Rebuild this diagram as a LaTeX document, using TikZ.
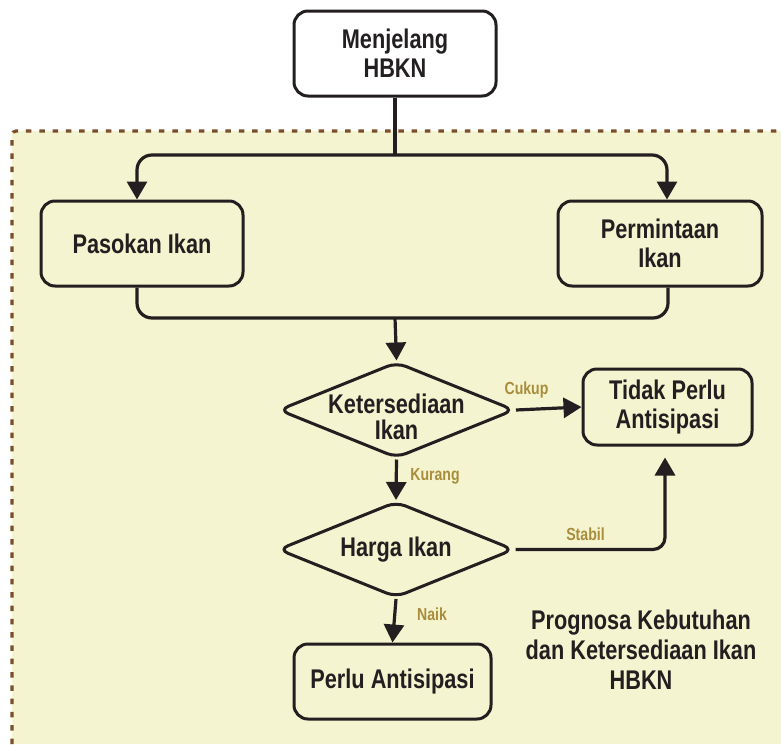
\documentclass[tikz,border=0pt]{standalone}
\usepackage{fontspec}
\setmainfont[FakeStretch=0.805]{Liberation Sans}
\usetikzlibrary{arrows.meta,shapes.geometric}
\definecolor{bgy}{HTML}{F4F4D0}
\definecolor{brd}{HTML}{7A4E28}
\definecolor{ink}{HTML}{231F20}
\definecolor{gold}{HTML}{A88D3C}
\begin{document}
\begin{tikzpicture}[x=1pt,y=-1pt,
  box/.style={draw=ink,line width=3pt,rounded corners=14pt,fill=bgy,align=center,
    font=\fontsize{27}{29}\selectfont\bfseries,text=ink,inner sep=0pt},
  dia/.style={diamond,draw=ink,line width=3pt,rounded corners=10pt,fill=bgy,inner sep=0pt},
  diatext/.style={align=center,font=\fontsize{27}{25.5}\selectfont\bfseries,text=ink,inner sep=0pt},
  lbl/.style={font=\fontsize{17.5}{20}\selectfont\bfseries,text=gold,anchor=base,inner sep=0pt},
  conn/.style={draw=ink,line width=3.2pt},
  arr/.style={conn,-{Triangle[width=20pt,length=18pt]}},
]
\useasboundingbox (0,0) rectangle (781,744);
% background panel
\fill[bgy] (12,131) rectangle (781,744);
\draw[brd,line width=3.2pt,dash pattern=on 5.5pt off 7.8pt,rounded corners=4pt] (12,744) -- (12,131) -- (781,131);

% nodes
\node[box,fill=white,minimum width=202pt,minimum height=85pt] (top) at (395,53.5) {Menjelang\\HBKN};
\node[box,minimum width=202pt,minimum height=85pt] (pas) at (142,243.5) {Pasokan Ikan};
\node[box,minimum width=204pt,minimum height=85pt] (perm) at (660,243.5) {Permintaan\\Ikan};
\node[dia,minimum width=236pt,minimum height=96pt] (k) at (396.5,410) {};
\node[diatext] (kt) at (396.5,417) {Ketersediaan\\Ikan};
\node[box,minimum width=169pt,minimum height=76pt] (tp) at (667.5,407) {Tidak Perlu\\Antisipasi};
\node[dia,minimum width=236pt,minimum height=96pt] (h) at (396,549.5) {};
\node[diatext] (ht) at (h) {Harga Ikan};
\node[box,minimum width=197pt,minimum height=75pt] (pa) at (392.5,681.5) {Perlu Antisipasi};
\node[diatext,font=\fontsize{27}{30}\selectfont\bfseries] (prog) at (641,650) {Prognosa Kebutuhan\\dan Ketersediaan Ikan\\HBKN};

% junction coordinates
\coordinate (jn) at (395,155);
\coordinate (jb) at (395,318);

% connectors
\draw[conn] (top.south) -- (jn);
\draw[arr,rounded corners=15pt] (jn) -| ([xshift=-5pt]pas.north);
\draw[arr,rounded corners=15pt] (jn) -| ([xshift=7pt]perm.north);
\draw[conn,rounded corners=15pt] ([xshift=-5pt]pas.south) |- (jb) -| ([xshift=8pt]perm.south);
\draw[arr] (jb) -- (k.north);
\draw[arr] (k.east) -- (tp.west);
\draw[arr] (k.south) -- (h.north);
\draw[arr,rounded corners=12pt] (h.east) -| ([xshift=-2.5pt,yshift=-11pt]tp.south);
\draw[arr] (h.south) -- (pa.north);

% labels
\node[lbl] (lc) at (526.5,394) {Cukup};
\node[lbl] (lk) at (435,480) {Kurang};
\node[lbl] (ls) at (585.5,540) {Stabil};
\node[lbl] (ln) at (432,620) {Naik};
\end{tikzpicture}
\end{document}
